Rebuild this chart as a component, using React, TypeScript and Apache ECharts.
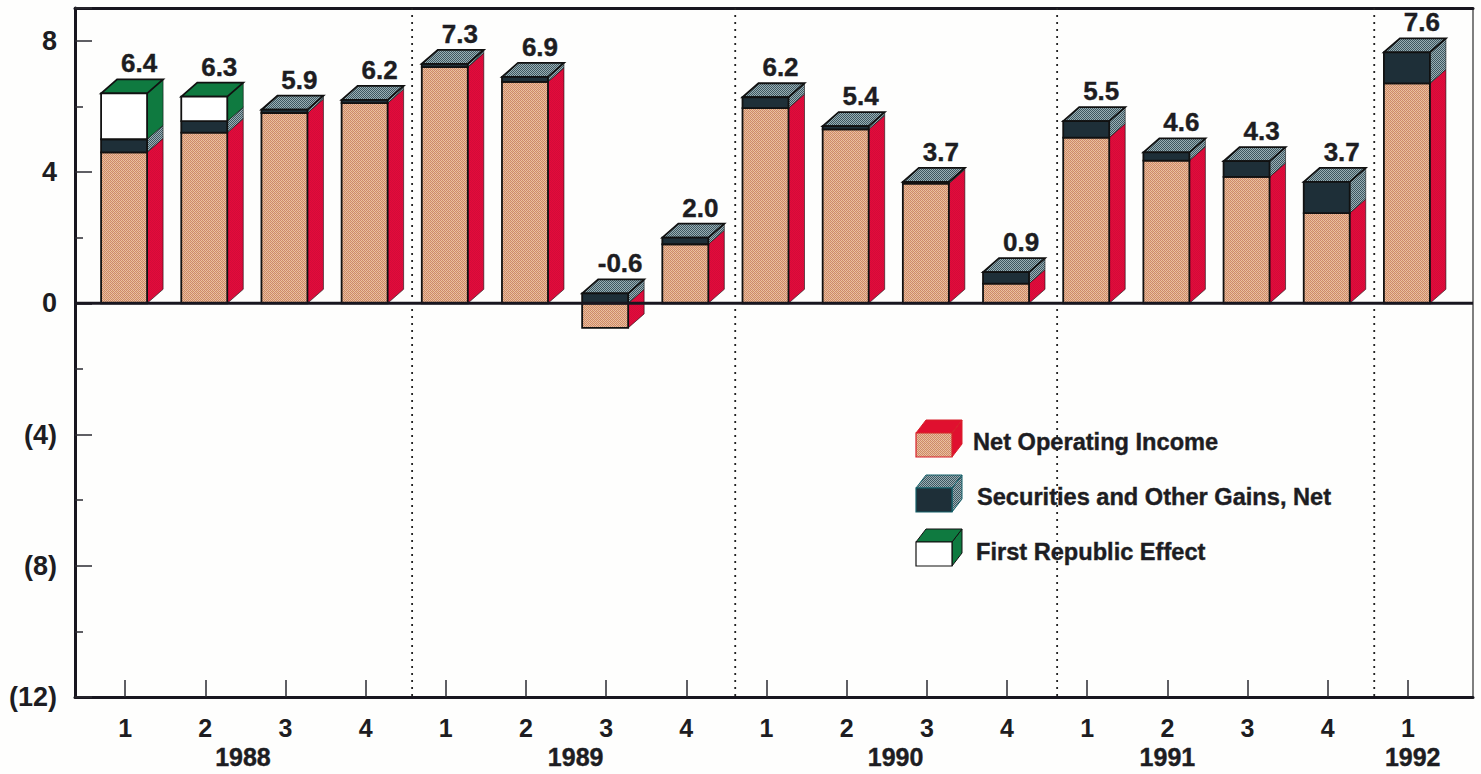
import React, { useEffect, useRef } from "react";
import * as echarts from "echarts";

const quarters = ["1","2","3","4","1","2","3","4","1","2","3","4","1","2","3","4","1"];
const netOperatingIncome = [4.6,5.2,5.8,6.1,7.2,6.75,-0.75,1.8,5.95,5.3,3.65,0.6,5.05,4.35,3.85,2.75,6.7];
const securitiesGains = [0.4,0.35,0.1,0.1,0.1,0.15,0.3,0.2,0.33,0.1,0.05,0.35,0.5,0.25,0.48,0.95,0.95];
const firstRepublic = [1.4,0.75,0,0,0,0,0,0,0,0,0,0,0,0,0,0,0];
const totalLabels = ["6.4","6.3","5.9","6.2","7.3","6.9","-0.6","2.0","6.2","5.4","3.7","0.9","5.5","4.6","4.3","3.7","7.6"];
const years = ["1988","1989","1990","1991","1992"];
const yearCentres = [1.47,5.62,9.61,13.0,16.06];
const yearEnds = [3.58,7.61,11.625,15.58];
const legendNames = ["Net Operating Income","Securities and Other Gains, Net","First Republic Effect"];

const FONT = "'Liberation Sans', Arial, sans-serif";
const INK = "#1d1d22";
const W = 46, DX = 16, DY = 14;

function dither(a: string, b: string, c?: string) {
  const cv = document.createElement("canvas");
  cv.width = 4; cv.height = 4;
  const g = cv.getContext("2d")!;
  g.fillStyle = a; g.fillRect(0,0,4,4);
  g.fillStyle = b;
  for (let i = 0; i < 4; i++) { g.fillRect(i,(i*1)%4,1,1); g.fillRect(i,(i+2)%4,1,1); }
  if (c) { g.fillStyle = c; g.fillRect(0,3,1,1); g.fillRect(2,1,1,1); }
  return { image: cv, repeat: "repeat" } as any;
}

function App() {
  const ref = useRef<HTMLDivElement>(null);
  useEffect(() => {
    const chart = echarts.init(ref.current!, undefined, { renderer: "svg" });
    const salmon = dither("#ecc49c","#cc8670","#e6bc84");
    const red = dither("#e40a3c","#d20c38");
    const steel = dither("#9ab0b4","#3e5660");
    const navy = "#1e2f38";
    const green = "#0f7a40";

    const cube = (sIdx: number) => (params: any, api: any) => {
      const i = api.value(0), lo = api.value(1), hi = api.value(2), isTop = api.value(3);
      const xc = api.coord([i,0])[0];
      const x0 = xc - 24, x1 = x0 + W;
      const yLo = api.coord([i,lo])[1], yHi = api.coord([i,hi])[1];
      const line = { stroke: "#111", lineWidth: 1.8 };
      const front = [navy, "#fff"];
      const children: any[] = [];
      const side = sIdx === 0 ? red : sIdx === 1 ? steel : green;
      children.push({ type: "polygon", shape: { points: [[x1,yLo],[x1+DX,yLo-DY],[x1+DX,yHi-DY],[x1,yHi]] }, style: { fill: side, stroke: "#111", lineWidth: 0.6 } });
      if (isTop) {
        const topFill = sIdx === 2 ? green : steel;
        children.push({ type: "polygon", shape: { points: [[x0,yHi],[x0+DX,yHi-DY],[x1+DX,yHi-DY],[x1,yHi]] }, style: { fill: topFill, ...line } });
      }
      const frontFill = sIdx === 0 ? salmon : front[sIdx-1];
      children.push({ type: "rect", shape: { x: x0, y: Math.min(yLo,yHi), width: W, height: Math.abs(yLo-yHi) }, style: { fill: frontFill, ...line } });
      return { type: "group", children };
    };

    const seg = (vals: number[], base: (i:number)=>number, top: (i:number)=>boolean) =>
      vals.map((v,i) => [i, base(i), base(i)+v, top(i)?1:0]);

    const noiData = netOperatingIncome.map((v,i) => [i, Math.min(v,0), Math.max(v,0), 0]);
    const secBase = (i:number) => Math.max(netOperatingIncome[i],0);
    const secData = seg(securitiesGains, secBase, (i) => firstRepublic[i] === 0);
    const frData = seg(firstRepublic, (i) => secBase(i)+securitiesGains[i], () => true)
      .filter((d) => d[2] !== d[1]);

    const cubeSeries = (name: string, data: number[][], idx: number) => ({
      name, type: "custom", xAxisIndex: 2, yAxisIndex: 2, coordinateSystem: "cartesian2d",
      clip: false, silent: true, z: 3 + idx, data, renderItem: cube(idx),
      encode: { x: 0, y: [1,2] },
    });

    const legendCube = (y: number, side: any, top: any, frontFill: any, stroke: string) => {
      const x0 = 916, x1 = 952, h = 24, dx = 10, dy = 13;
      return {
        type: "group", z: 20, children: [
          { type: "polygon", shape: { points: [[x1,y],[x1+dx,y-dy],[x1+dx,y+h-dy],[x1,y+h]] }, style: { fill: side, stroke, lineWidth: 1 } },
          { type: "polygon", shape: { points: [[x0,y],[x0+dx,y-dy],[x1+dx,y-dy],[x1,y]] }, style: { fill: top, stroke, lineWidth: 1 } },
          { type: "rect", shape: { x: x0, y, width: x1-x0, height: h }, style: { fill: frontFill, stroke, lineWidth: 1.2 } },
        ],
      };
    };
    const legendText = (s: string, x: number, y: number) => ({
      type: "text", z: 20, x, y, style: { text: s, fill: INK, stroke: INK, lineWidth: 0.4, font: `bold 23.6px ${FONT}`, textVerticalAlign: "middle" },
    });

    const axisCommon = { axisLabel: { show: false }, axisTick: { show: false }, splitLine: { show: false } };
    const gridA = { left: 75, width: 1398, top: 8, height: 689 };
    const gridB = { left: 85, width: 1363, top: 8, height: 689 };

    chart.setOption({
      animation: false,
      backgroundColor: "#fefefd",
      textStyle: { fontFamily: FONT },
      grid: [gridA, gridB],
      xAxis: [
        { gridIndex: 0, type: "value", min: 0, max: 1, position: "bottom", axisLine: { onZero: false, lineStyle: { color: "#18161f", width: 3 } }, ...axisCommon },
        { gridIndex: 0, type: "value", min: 0, max: 1, position: "top", axisLine: { onZero: false, lineStyle: { color: "#18161f", width: 3 } }, ...axisCommon },
        { gridIndex: 1, type: "category", data: quarters, position: "bottom",
          axisLine: { show: false, onZero: false },
          axisTick: { show: true, inside: true, length: 17, alignWithLabel: true, lineStyle: { color: "#2a2a30", width: 1.5 } },
          axisLabel: { interval: 0, margin: 18, color: INK, fontWeight: "bold", fontSize: 25, fontFamily: FONT },
          splitLine: { show: false } },
      ],
      yAxis: [
        { gridIndex: 0, type: "value", min: -12, max: 9, interval: 4, position: "left",
          axisLine: { onZero: false, lineStyle: { color: "#18161f", width: 3 } },
          axisTick: { show: true, inside: true, length: 17, lineStyle: { color: "#2a2a30", width: 1.5 } },
          minorTick: { show: true, splitNumber: 2, length: 8, lineStyle: { color: "#2a2a30", width: 1.5 } },
          axisLabel: { margin: 18, color: INK, fontWeight: "bold", fontSize: 27, fontFamily: FONT,
            formatter: (v: number) => v === 9 ? "" : v < 0 ? `(${-v})` : String(v) },
          splitLine: { show: false } },
        { gridIndex: 0, type: "value", min: -12, max: 9, position: "right", axisLine: { onZero: false, lineStyle: { color: "#555", width: 1.5 } }, ...axisCommon },
        { gridIndex: 1, type: "value", min: -12, max: 9, axisLine: { show: false }, ...axisCommon },
      ],
      series: [
        {
          type: "custom", name: "Dividers", xAxisIndex: 2, yAxisIndex: 2, clip: false, silent: true, z: 1,
          data: yearEnds.map((v) => [v]),
          renderItem: (p: any, api: any) => {
            const band = api.size([1,0])[0];
            const x = api.coord([0,0])[0] + api.value(0)*band;
            const t = api.coord([0,9])[1], b = api.coord([0,-12])[1];
            return { type: "line", shape: { x1: x, y1: t, x2: x, y2: b }, style: { stroke: "#222", lineWidth: 1.8, lineDash: [2,5] } };
          },
        },
        cubeSeries("Net Operating Income", noiData, 0),
        cubeSeries("Securities and Other Gains, Net", secData, 1),
        cubeSeries("First Republic Effect", frData, 2),
        {
          type: "custom", name: "Zero", xAxisIndex: 0, yAxisIndex: 0, silent: true, z: 8, data: [[0,0]],
          renderItem: (p: any, api: any) => {
            const a = api.coord([0,0]), b = api.coord([1,0]);
            return { type: "line", shape: { x1: a[0], y1: a[1], x2: b[0], y2: b[1] }, style: { stroke: "#18161f", lineWidth: 3 } };
          },
        },
        {
          type: "custom", name: "Totals", xAxisIndex: 2, yAxisIndex: 2, clip: false, silent: true, z: 9,
          data: totalLabels.map((s,i) => [i, secBase(i)+securitiesGains[i]+firstRepublic[i], s]),
          renderItem: (p: any, api: any) => {
            const c = api.coord([api.value(0), api.value(1)]);
            return { type: "text", x: c[0]+14, y: c[1]-DY-16, style: { text: totalLabels[p.dataIndex], fill: INK, stroke: INK, lineWidth: 0.4, font: `bold 26px ${FONT}`, textAlign: "center", textVerticalAlign: "middle" } };
          },
        },
        {
          type: "custom", name: "Years", xAxisIndex: 2, yAxisIndex: 2, clip: false, silent: true, z: 9,
          data: yearCentres.map((v) => [v]),
          renderItem: (p: any, api: any) => {
            const band = api.size([1,0])[0];
            const x = api.coord([0,-12])[0] + api.value(0)*band;
            const y = api.coord([0,-12])[1];
            return { type: "text", x, y: y+60, style: { text: years[p.dataIndex], fill: INK, stroke: INK, lineWidth: 0.4, font: `bold 25px ${FONT}`, textAlign: "center", textVerticalAlign: "middle" } };
          },
        },
      ],
      graphic: [
        legendCube(433, "#e0102f", "#e0102f", salmon, "#d8202a"),
        legendCube(488, steel, steel, navy, "#14606a"),
        legendCube(542, green, green, "#fff", "#111"),
        legendText(legendNames[0], 973, 442),
        legendText(legendNames[1], 977, 497),
        legendText(legendNames[2], 976, 552),
      ],
    });
    return () => chart.dispose();
  }, []);
  return <div ref={ref} style={{ position: "fixed", left: 0, top: 0, width: 1481, height: 774 }} />;
}

export default App;
